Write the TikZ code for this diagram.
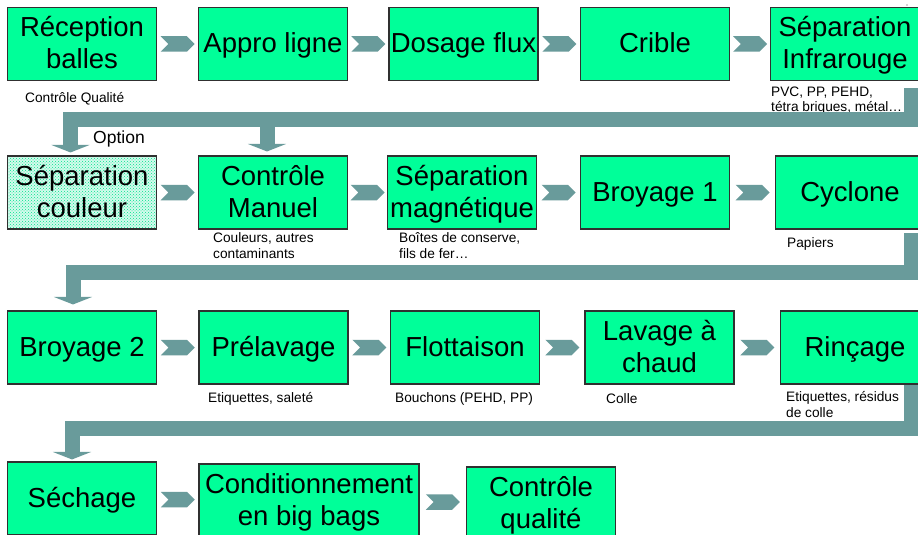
\documentclass[tikz,border=0pt]{standalone}
\usepackage{fontspec}
\setmainfont{Liberation Sans}
\usetikzlibrary{shapes.symbols,arrows.meta,calc,patterns}
\definecolor{boxgreen}{HTML}{00FF99}
\definecolor{bandcol}{HTML}{699B9B}
\definecolor{dotgreen}{HTML}{00E48C}
\definecolor{mintbg}{HTML}{D4FAEC}
\definecolor{edgecol}{HTML}{303030}
\newcommand\lst{\rule[-6pt]{0pt}{29.7pt}}
\newcommand\two[2]{\vbox{\baselineskip=32pt\lineskiplimit=-100pt\lineskip=0pt
  \halign{\hfil##\hfil\cr\lst#1\cr\lst#2\cr}}}
\tikzset{
  stepbox/.style={draw=edgecol, line width=1.1pt, fill=boxgreen, minimum width=149, minimum height=73,
    inner sep=0pt, font=\fontsize{27.5}{32}\selectfont,
    execute at begin node=\lst},
  optbox/.style={stepbox, fill=none, preaction={fill=mintbg}, pattern=crosshatch dots, pattern color=dotgreen},
  chev/.style={signal, signal to=east, signal from=west, fill=bandcol, draw=none,
    minimum width=34, minimum height=15.5, inner sep=0pt},
  band/.style={draw=bandcol, line width=15pt, line join=miter, -{Triangle[width=38pt,length=7.5pt]}},
  note/.style={anchor=base west, inner sep=0pt, font=\fontsize{13.7}{16}\selectfont},
}
\begin{document}
\begin{tikzpicture}[x=1pt,y=-1pt]
\clip (0,0) rectangle (918,535);
\fill[white] (0,0) rectangle (918,535);

% Row 1
\node[stepbox] (rb) at (82,44) {\two{Réception}{balles}};
\node[stepbox] (al) at (273,44) {Appro ligne};
\node[stepbox] (df) at (463.5,44) {Dosage flux};
\node[stepbox] (cr) at (655,44) {Crible};
\node[stepbox] (si) at (845,44) {\two{Séparation}{Infrarouge}};
% Row 2
\node[optbox] (sc) at (82,192.5) {\two{Séparation}{couleur}};
\node[stepbox] (cm) at (273,192.5) {\two{Contrôle}{Manuel}};
\node[stepbox] (sm) at (462,192.5) {\two{Séparation}{magnétique}};
\node[stepbox] (b1) at (655,192.5) {Broyage 1};
\node[stepbox] (cy) at (850,192.5) {Cyclone};
% Row 3
\node[stepbox] (b2) at (82,347.5) {Broyage 2};
\node[stepbox] (pl) at (273.5,347.5) {Prélavage};
\node[stepbox] (fl) at (465,347.5) {Flottaison};
\node[stepbox] (lc) at (659.5,347.5) {\two{Lavage à}{chaud}};
\node[stepbox] (ri) at (855,347.5) {Rinçage};
% Row 4
\node[stepbox] (se) at (82,498.5) {Séchage};
\node[stepbox, minimum width=220] (cb) at (309,500.5) {\two{Conditionnement}{en big bags}};
\node[stepbox] (cq) at (541,503.5) {\two{Contrôle}{qualité}};

% chevrons
\foreach \a/\b in {rb/al, al/df, df/cr, cr/si, sc/cm, cm/sm, sm/b1, b1/cy,
                   b2/pl, pl/fl, fl/lc, lc/ri, se/cb, cb/cq}
  \node[chev] (ch-\a) at ($(\a.east)!0.5!(\b.west)$) {};

% notes
\node[note] (n1) at (25,102) {Contrôle Qualité};
\node[note] (n2a) at (771,96) {PVC, PP, PEHD,};
\node[note] (n2b) at (771,111) {tétra briques, métal…};
\node[note, font=\fontsize{17.5}{20}\selectfont] (opt) at (93,143) {Option};
\node[note] (n3a) at (213,242) {Couleurs, autres};
\node[note] (n3b) at (213,258) {contaminants};
\node[note] (n4a) at (399,242) {Boîtes de conserve,};
\node[note] (n4b) at (399,258) {fils de fer…};
\node[note] (n5) at (787,247) {Papiers};
\node[note] (n6) at (208,402) {Etiquettes, saleté};
\node[note] (n7) at (395,402) {Bouchons (PEHD, PP)};
\node[note] (n8) at (606,403) {Colle};
\node[note] (n9a) at (786,401) {Etiquettes, résidus};
\node[note] (n9b) at (786,417) {de colle};

% big connectors
\coordinate (c1) at (911,88);
\coordinate (k1) at (911,119.5);
\coordinate (k1l) at (70.5,119.5);
\draw[band] (c1) -- (k1) -- (k1l) -- ([xshift=-11.5pt,yshift=3pt]sc.north);
\coordinate (k1b) at (267,119.5);
\draw[band] (k1b) -- ([xshift=-6pt,yshift=4pt]cm.north);

\coordinate (c2) at (911,233);
\coordinate (k2) at (911,272);
\coordinate (k2l) at (73,272);
\draw[band] (c2) -- (k2) -- (k2l) -- ([xshift=-9pt,yshift=6pt]b2.north);

\coordinate (c3) at (911,385);
\coordinate (k3) at (911,428.5);
\coordinate (k3l) at (72,428.5);
\draw[band] (c3) -- (k3) -- (k3l) -- ([xshift=-10pt,yshift=2pt]se.north);

\fill[black!70] (907,5) circle (0.7);
\end{tikzpicture}
\end{document}
